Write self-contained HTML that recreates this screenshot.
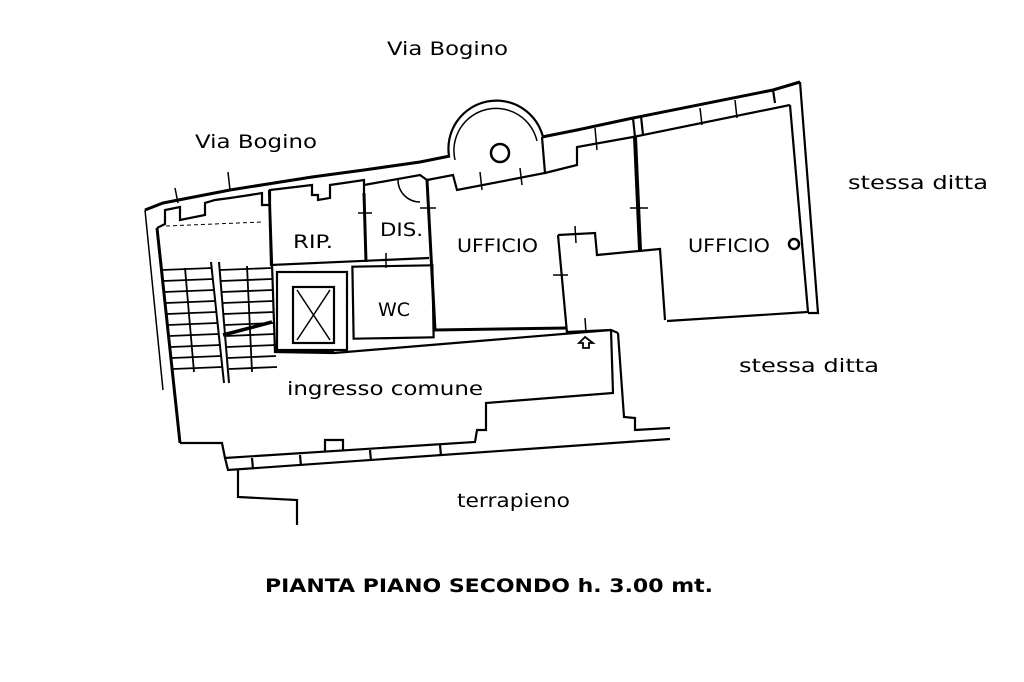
<!DOCTYPE html>
<html><head><meta charset="utf-8"><style>
html,body{margin:0;padding:0;background:#fff}
svg{display:block}
text{font-family:"DejaVu Sans","Liberation Sans",sans-serif;fill:#000}
</style></head><body>
<svg width="1024" height="682" viewBox="0 0 1024 682" xmlns="http://www.w3.org/2000/svg">
<g fill="none" stroke="#000" stroke-width="2.2" stroke-linejoin="miter">
<polyline points="145,210 163,203 230,190 312,177 364,170 420,162 450,156" stroke-width="3"/>
<polyline points="542,137 577,130 633,118 773,90 800,82" stroke-width="3"/>
<polyline points="157,228 165,224 165,210 180,207 180,220 205,215 205,203 215,200 230,198 250,195 262,193 262,205 270,205 270,190 312,185 312,195 318,195 318,200 330,198 330,185 364,180 364,193"/>
<polyline points="364,185 420,175 427,180"/>
<polyline points="427,180 453,175 457,190 545,173 542,137"/>
<polyline points="545,173 577,165 577,147 633,137 790,105"/>
<path d="M449,156 A48,48 0 0 1 543,137"/>
<path d="M455,160 A42,42 0 0 1 537,141" stroke-width="1.5"/>
<circle cx="500" cy="153" r="9" stroke-width="2.5"/>
<polyline points="800,82 818,313 808,313"/>
<polyline points="790,105 808,312 667,321"/>
<line x1="773" y1="90" x2="775" y2="103"/>
<line x1="633" y1="118" x2="635" y2="137"/>
<line x1="641" y1="116" x2="643" y2="135"/>
<polyline points="635,137 640,250" stroke-width="4"/>
<polyline points="558,235 595,233 597,255 660,249 665,320"/>
<polyline points="558,235 567,333"/>
<polyline points="427,180 435,330 567,328" stroke-width="3"/>
<polyline points="567,332 611,330 618,333"/>
<polyline points="269,190 271,265 429,258"/>
<polyline points="364,193 366,262" stroke-width="3"/>
<rect x="353" y="266" width="80" height="72" transform="rotate(-1 393 302)"/>
<rect x="277" y="272" width="70" height="78"/>
<rect x="293" y="287" width="41" height="56"/>
<line x1="297" y1="290" x2="330" y2="340" stroke-width="1.5"/>
<line x1="330" y1="290" x2="297" y2="340" stroke-width="1.5"/>
<line x1="300" y1="350" x2="334" y2="352"/>
<!-- stair walls -->
<polyline points="145,210 163,390" stroke-width="1.5"/>
<polyline points="157,228 180,443" stroke-width="3"/>
<line x1="166" y1="226" x2="262" y2="222" stroke-dasharray="4,3" stroke-width="1"/>
<polyline points="270,205 275,352 310,350"/>
<line x1="211" y1="262" x2="224" y2="383" stroke-width="2"/>
<line x1="219" y1="262" x2="229" y2="383" stroke-width="2"/>
<g stroke-width="1.8">
<line x1="162" y1="270" x2="212" y2="268"/><line x1="163" y1="281" x2="213" y2="279"/>
<line x1="164" y1="292" x2="214" y2="290"/><line x1="166" y1="303" x2="215" y2="301"/>
<line x1="167" y1="314" x2="216" y2="312"/><line x1="168" y1="325" x2="217" y2="323"/>
<line x1="169" y1="336" x2="218" y2="334"/><line x1="171" y1="347" x2="220" y2="345"/>
<line x1="172" y1="358" x2="221" y2="356"/><line x1="173" y1="369" x2="222" y2="367"/>
<line x1="220" y1="270" x2="272" y2="268"/><line x1="221" y1="281" x2="272" y2="279"/>
<line x1="222" y1="292" x2="273" y2="290"/><line x1="223" y1="303" x2="273" y2="301"/>
<line x1="224" y1="314" x2="274" y2="312"/><line x1="225" y1="325" x2="274" y2="323"/>
<line x1="226" y1="336" x2="275" y2="334"/><line x1="227" y1="347" x2="276" y2="345"/>
<line x1="228" y1="358" x2="276" y2="356"/><line x1="229" y1="369" x2="277" y2="367"/>
<line x1="185" y1="268" x2="194" y2="372"/><line x1="247" y1="266" x2="252" y2="372"/>
</g>
<line x1="223" y1="335" x2="272" y2="322" stroke-width="3.5"/>
<polyline points="275,352 334,353 611,330"/>
<polyline points="180,443 222,443 225,458 475,442 477,430 486,430 486,403 613,393 611,330"/>
<polyline points="225,458 228,470 670,439"/>
<polyline points="618,333 624,417 635,418 635,430 670,428"/>
<polyline points="325,452 325,440 343,440 343,451"/>
<line x1="252" y1="458" x2="253" y2="469"/>
<line x1="300" y1="455" x2="301" y2="466"/>
<line x1="370" y1="450" x2="371" y2="461"/>
<line x1="440" y1="445" x2="441" y2="456"/>
<polyline points="238,470 238,497 297,500 297,525"/>
<g stroke-width="1.5">
<line x1="358" y1="213" x2="372" y2="213"/><line x1="386" y1="253" x2="386" y2="268"/>
<line x1="420" y1="208" x2="436" y2="208"/><line x1="630" y1="208" x2="648" y2="208"/>
<line x1="553" y1="275" x2="568" y2="275"/><line x1="575" y1="226" x2="576" y2="243"/>
<line x1="585" y1="318" x2="586" y2="333"/>
<path d="M398,180 A22,22 0 0 0 420,202"/>
<line x1="228" y1="172" x2="230" y2="190"/><line x1="175" y1="188" x2="178" y2="203"/>
<line x1="480" y1="172" x2="482" y2="190"/><line x1="520" y1="168" x2="522" y2="185"/>
<line x1="595" y1="128" x2="597" y2="150"/><line x1="700" y1="108" x2="702" y2="125"/><line x1="735" y1="100" x2="737" y2="118"/>
</g>
<path d="M585,337 L579,343 L583,343 L583,348 L589,348 L589,343 L593,343 Z" stroke-width="1.8"/>
</g>
<g font-size="19">
<text x="387" y="55" textLength="121" lengthAdjust="spacingAndGlyphs">Via  Bogino</text>
<text x="195" y="148" textLength="122" lengthAdjust="spacingAndGlyphs">Via  Bogino</text>
<text x="848" y="189" textLength="140" lengthAdjust="spacingAndGlyphs">stessa  ditta</text>
<text x="739" y="372" textLength="140" lengthAdjust="spacingAndGlyphs">stessa  ditta</text>
<text x="287" y="395" textLength="196" lengthAdjust="spacingAndGlyphs">ingresso  comune</text>
<text x="457" y="507" textLength="113" lengthAdjust="spacingAndGlyphs">terrapieno</text>
<text x="293" y="248" textLength="40" lengthAdjust="spacingAndGlyphs">RIP.</text>
<text x="380" y="236" textLength="43" lengthAdjust="spacingAndGlyphs">DIS.</text>
<text x="457" y="252" textLength="81" lengthAdjust="spacingAndGlyphs">UFFICIO</text>
<text x="688" y="252" textLength="82" lengthAdjust="spacingAndGlyphs">UFFICIO</text>
<text x="378" y="316" textLength="32" lengthAdjust="spacingAndGlyphs">WC</text>
</g>
<circle cx="794" cy="244" r="5" fill="none" stroke="#000" stroke-width="2.5"/>
<text x="265" y="592" font-size="19" font-weight="bold" textLength="448" lengthAdjust="spacingAndGlyphs">PIANTA  PIANO  SECONDO    h.  3.00  mt.</text>
</svg>
</body></html>
